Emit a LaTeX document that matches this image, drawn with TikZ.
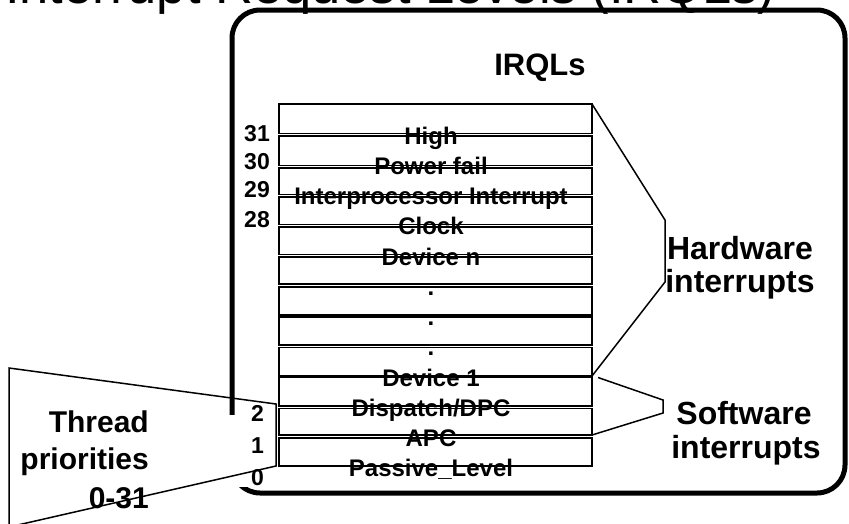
\documentclass[tikz,border=0pt]{standalone}
\usepackage{fontspec}
\setmainfont{Liberation Sans}
\begin{document}
\begin{tikzpicture}[x=1pt,y=-1pt,
  frame/.style={draw, line width=5pt, rounded corners=28pt, inner sep=0pt, outer sep=0pt},
  cell/.style={draw, line width=1.2pt, minimum width=313pt, inner sep=0pt, outer sep=0pt},
  lvl/.style={anchor=base, inner sep=0pt, font=\bfseries\fontsize{24}{24}\selectfont},
  num/.style={anchor=base east, inner sep=0pt, font=\bfseries\fontsize{23}{23}\selectfont},
  big/.style={anchor=base, inner sep=0pt, font=\bfseries\fontsize{32}{32}\selectfont},
  side/.style={anchor=base east, inner sep=0pt, font=\bfseries\fontsize{30}{30}\selectfont},
  thin/.style={line width=1.5pt, line join=miter}]
\clip (0,0) rectangle (849,523);
\useasboundingbox (0,0) rectangle (849,523);

% heading, mostly cut off by the top of the page
\node[anchor=base west, inner sep=0pt, font=\fontsize{52.5}{52.5}\selectfont] (title) at (5,3) {Interrupt Request Levels (IRQLs)};

% outer rounded frame
\node[frame, minimum width=613pt, minimum height=483pt] (frame) at (538.5,251.5) {};
% white patch behind the low level numbers
\fill[white] (224,415) rectangle (276,487);

% thread priority wedge
\draw[thin] (9,368) coordinate (wa) -- (276,404) coordinate (wb) -- (276,466) coordinate (wc) -- (9,527) coordinate (wd) -- cycle;

% IRQL table rows
\foreach \n/\yc/\h in {1/118.75/29.5, 2/150.75/29.5, 3/181.25/26.5, 4/210.75/27.5,
                       5/240.75/27.5, 6/270.5/27, 7/301/28, 8/331/28,
                       9/361.75/28.5, 10/391.75/28.5, 11/421.75/26.5, 12/452/28}
  \node[cell, minimum height=\h pt] (r\n) at (435.5,\yc) {};

% level names
\foreach \n/\t in {1/High, 2/Power fail, 3/Interprocessor Interrupt, 4/Clock, 5/Device n,
                   6/., 7/., 8/., 9/Device 1, 10/{Dispatch/DPC}, 11/APC, 12/Passive\_Level}
  \node[lvl] (t\n) at (431,{144+(\n-1)*30.27}) {\t};

% level numbers
\node[num] (n31) at (270,141) {31};
\node[num] (n30) at (270,169) {30};
\node[num] (n29) at (270,197) {29};
\node[num] (n28) at (270,227) {28};
\node[num] (n2) at (264,421) {2};
\node[num] (n1) at (264,453) {1};
\node[num] (n0) at (264,485) {0};

% heading of the table
\node[big, font=\bfseries\fontsize{31}{31}\selectfont] (irql) at (540,75) {IRQLs};

% hardware bracket
\coordinate (hwa) at (665,220);
\coordinate (hwb) at (665,282);
\draw[thin] (r1.north east) -- (hwa) -- (hwb) -- (r9.south east);
\node[big] (hw1) at (740,259) {Hardware};
\node[big] (hw2) at (740,292) {interrupts};

% software bracket
\coordinate (swa) at (663,400);
\coordinate (swb) at (663,413);
\draw[thin] ([xshift=6pt]r10.north east) -- (swa) -- (swb) -- (r11.south east);
\node[big] (sw1) at (744,424) {Software};
\node[big] (sw2) at (746,458) {interrupts};

% thread priorities label
\node[side] (th1) at (149,432) {Thread};
\node[side] (th2) at (149,469) {priorities};
\node[side] (th3) at (149,508) {0-31};
\end{tikzpicture}
\end{document}
